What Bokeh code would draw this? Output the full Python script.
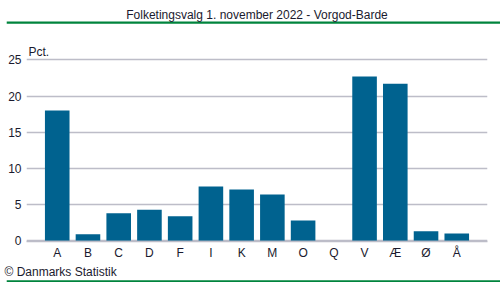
from bokeh.plotting import figure
from bokeh.models import Range1d, FactorRange, Title, Label
from bokeh.embed import file_html
from bokeh.resources import INLINE

categories = ["A", "B", "C", "D", "F", "I", "K", "M", "O", "Q", "V", "Æ", "Ø", "Å"]
values = [18.0, 0.9, 3.8, 4.3, 3.4, 7.5, 7.1, 6.4, 2.8, 0.0, 22.7, 21.7, 1.3, 1.0]
y_ticks = [0, 5, 10, 15, 20, 25]

FONT = "Liberation Sans"
BAR = "#00628F"
TXT = "#1a1a2e"
GREEN = "#00843D"

p = figure(width=500, height=282, output_backend="svg", toolbar_location=None,
           x_range=FactorRange(*categories, range_padding=0.5, range_padding_units="absolute"),
           y_range=Range1d(-0.1, 29.74),
           min_border_left=26, min_border_right=13, min_border_top=25,
           min_border_bottom=41, title=None)

p.vbar(x=categories, top=values, width=0.8, color=BAR, line_color=None)

p.outline_line_color = None
p.background_fill_color = "white"
p.border_fill_color = "white"

p.xgrid.grid_line_color = None
p.ygrid.grid_line_color = "#BDBDC8"
p.ygrid.grid_line_width = 1.5
p.yaxis.ticker = y_ticks

for ax in (p.xaxis, p.yaxis):
    ax.major_label_text_font = FONT
    ax.major_label_text_font_size = "12px"
    ax.major_label_text_color = TXT
    ax.major_tick_line_color = None
    ax.minor_tick_line_color = None
    ax.major_tick_out = 0
    ax.major_tick_in = 0
p.yaxis.axis_line_color = None
p.xaxis.axis_line_color = "#BDBDC8"
p.xaxis.axis_line_width = 1.5
p.xaxis.major_label_standoff = 4
p.yaxis.major_label_standoff = 5

# unit label inside the (extended) frame, just above the top gridline
p.add_layout(Label(x=2, y=26.1, x_units="screen", y_units="data", text="Pct.",
                   text_font=FONT, text_font_size="12px", text_color=TXT,
                   text_align="left", text_baseline="alphabetic"))


def text_title(text, align, offset, standoff=0):
    return Title(text=text, align=align, offset=offset, standoff=standoff,
                 text_font=FONT, text_font_size="12px", text_font_style="normal",
                 text_color=TXT, text_line_height=1.0)


def green_rule(valign, standoff=0):
    return Title(text=" ", align="center", offset=-6.5, standoff=standoff,
                 vertical_align=valign, text_font_size="2px", text_line_height=1.0,
                 background_fill_color=GREEN, background_fill_alpha=1,
                 padding=(250, 0))


# above panel: items listed from the frame outward
p.add_layout(green_rule("top"), "above")
p.add_layout(text_title("Folketingsvalg 1. november 2022 - Vorgod-Barde", "center", -6.5), "above")

# below panel
p.add_layout(text_title("© Danmarks Statistik", "left", -22), "below")
p.add_layout(green_rule("bottom"), "below")

open("out.html", "w").write(file_html(p, INLINE))
